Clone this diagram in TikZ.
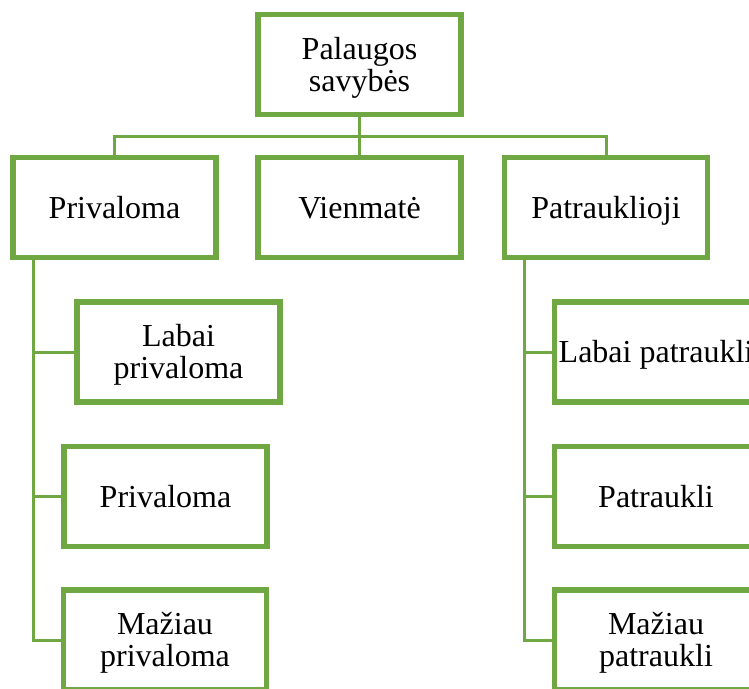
\documentclass[tikz,border=0pt]{standalone}
\usepackage{fontspec}
\setmainfont{Liberation Serif}
\definecolor{leaf}{HTML}{6FA743}
\begin{document}
\begin{tikzpicture}[x=1pt,y=-1pt,
  box/.style={draw=leaf,line width=3.8pt,fill=white,rectangle,
    minimum width=201pt,minimum height=98pt,inner sep=2pt,align=center,
    text height=21pt,text depth=0pt,
    font=\fontsize{32}{32}\selectfont},
  twoline/.style={text height=53pt},
  link/.style={draw=leaf,line width=3pt}]
\clip (0,0) rectangle (749,688);
\useasboundingbox (0,0) rectangle (749,688);

% root and first level
\node[box,twoline] (root) at (359.5,64.5) {Palaugos\\savybės};
\node[box] (priv) at (114.5,207.5) {Privaloma};
\node[box] (vien) at (359.5,207.5) {Vienmatė};
\node[box] (patr) at (606,207.5) {Patrauklioji};

% left branch
\node[box,twoline] (lp) at (178.5,352) {Labai\\privaloma};
\node[box] (pp) at (165.5,496.5) {Privaloma};
\node[box,twoline] (mp) at (165,640) {Mažiau\\privaloma};

% right branch
\node[box] (lt) at (656,352) {Labai patraukli};
\node[box] (pt) at (656,496.5) {Patraukli};
\node[box,twoline] (mt) at (656,640) {Mažiau\\patraukli};

% bus below the root
\coordinate (bus) at (359.5,136);
\draw[link] (root.south) -- (bus);
\draw[link] (priv.north) |- (bus) -| (patr.north);
\draw[link] (vien.north) -- (bus);

% spines of the two branches
\coordinate (lspine) at (33,258);
\coordinate (rspine) at (524,258);
\draw[link] (lspine) |- (mp.west);
\draw[link] (lspine |- lp.west) -- (lp.west);
\draw[link] (lspine |- pp.west) -- (pp.west);
\draw[link] (rspine) |- (mt.west);
\draw[link] (rspine |- lt.west) -- (lt.west);
\draw[link] (rspine |- pt.west) -- (pt.west);

% redraw box frames over connector ends
\foreach \n in {root,priv,vien,patr,lp,pp,mp,lt,pt,mt}
  \draw[draw=leaf,line width=3.8pt] (\n.north west) rectangle (\n.south east);
\end{tikzpicture}
\end{document}
